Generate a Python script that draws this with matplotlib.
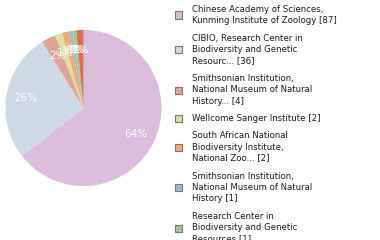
import math

import matplotlib
matplotlib.use("Agg")
import matplotlib.pyplot as plt
from matplotlib.patches import Rectangle

# Data
institutions = [
    "Chinese Academy of Sciences,\nKunming Institute of Zoology",
    "CIBIO, Research Center in\nBiodiversity and Genetic\nResourc...",
    "Smithsonian Institution,\nNational Museum of Natural\nHistory...",
    "Wellcome Sanger Institute",
    "South African National\nBiodiversity Institute,\nNational Zoo...",
    "Smithsonian Institution,\nNational Museum of Natural\nHistory",
    "Research Center in\nBiodiversity and Genetic\nResources",
    "Other",
]
counts = [87, 36, 4, 2, 2, 1, 1, 2]
colors = ['#dcbcdc', '#cdd9e4', '#e2a396', '#d9e0a0', '#eeaa72',
          '#9ab8dc', '#a4cb84', '#df6a4c']

W, H = 380, 240
fig = plt.figure(figsize=(W / 100, H / 100), dpi=100)

# Pie axes placed over the pie's pixel box
cx, cy, r = 83.5, 108, 78
ax = fig.add_axes([(cx - r) / W, (H - cy - r) / H, 2 * r / W, 2 * r / H])


def pct_label(p):
    return "%d%%" % math.floor(p + 1e-9)


wedges, texts, autotexts = ax.pie(
    counts, colors=colors, startangle=90, counterclock=False,
    autopct=pct_label, pctdistance=0.75,
    wedgeprops=dict(linewidth=0),
    textprops=dict(color='white', fontsize=7.5))
ax.set_xlim(-1, 1)
ax.set_ylim(-1, 1)
ax.set_aspect('equal')
ax.axis('off')

# Legend drawn by hand: squares with wrapped labels
line_h = 12
gap = 4.5
sq = 7
y = 3
for name, n, c in zip(institutions, counts, colors):
    nlines = name.count("\n") + 1
    h = nlines * line_h
    yc = y + h / 2
    fig.patches.append(Rectangle((175 / W, (H - yc - sq / 2) / H), sq / W, sq / H,
                                 transform=fig.transFigure, facecolor=c,
                                 edgecolor='#777777', linewidth=0.8))
    fig.text(192 / W, (H - yc) / H, "%s [%d]" % (name, n), ha='left', va='center',
             fontsize=6.8, family='DejaVu Sans', fontstretch='condensed',
             color='#1a1a1a', linespacing=1.3)
    y += h + gap

fig.savefig("out.png", dpi=100)
